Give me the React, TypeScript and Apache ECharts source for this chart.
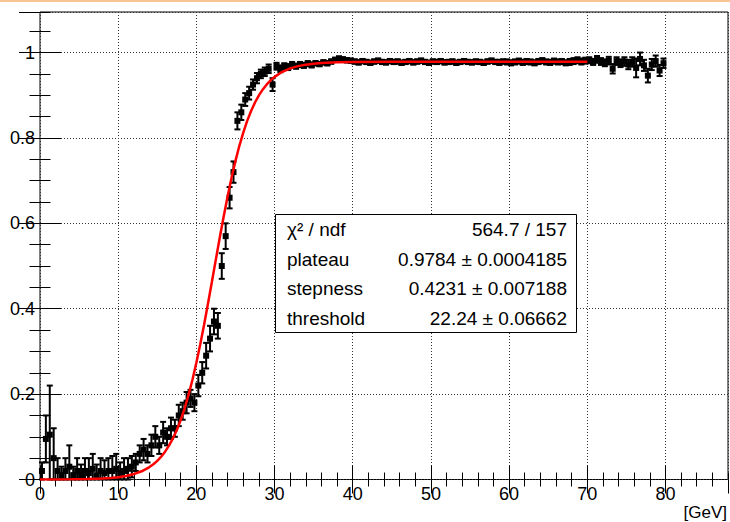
import React, { useEffect, useRef } from "react";
import * as echarts from "echarts";

// Histogram binning of the efficiency graph
const BIN_START = 0;
const BIN_WIDTH = 0.5;

// Efficiency values per bin (0–80 GeV, 0.5 GeV bins)
const effLow = [0.02, 0.095, 0.105, 0.05, 0.02, 0.01, 0.02, 0.03, 0.01, 0.02];
const effLowErr = [0.02, 0.055, 0.115, 0.07, 0.03, 0.02, 0.03, 0.05, 0.02, 0.03];

const effFlat = [0.01, 0.02, 0.015, 0.025, 0.01, 0.02, 0.015, 0.02, 0.02, 0.025, 0.015, 0.02, 0.025, 0.03];
const effFlatErr = [0.025, 0.03, 0.035, 0.035, 0.025, 0.03, 0.03, 0.03, 0.035, 0.035, 0.025, 0.03, 0.025, 0.025];

const effRise = [0.04, 0.06, 0.07, 0.06, 0.08, 0.10, 0.08, 0.11, 0.10, 0.12, 0.12, 0.15, 0.16, 0.18, 0.19, 0.18];
const effRiseErr = [0.02, 0.02, 0.025, 0.02, 0.025, 0.025, 0.02, 0.025, 0.02, 0.025, 0.02, 0.025, 0.02, 0.025, 0.02, 0.02];

const effSteep = [0.22, 0.25, 0.29, 0.33, 0.37, 0.36, 0.5, 0.57, 0.66, 0.72];
const effSteepErr = [0.025, 0.025, 0.03, 0.03, 0.03, 0.03, 0.03, 0.03, 0.025, 0.025];

const effKnee = [0.84, 0.86, 0.89, 0.905, 0.925, 0.94, 0.95, 0.955, 0.962, 0.925];
const effKneeErr = [0.02, 0.018, 0.015, 0.015, 0.012, 0.012, 0.01, 0.01, 0.01, 0.015];

const effApproach = [0.968, 0.962, 0.968, 0.966, 0.971, 0.968, 0.972, 0.97, 0.974, 0.971, 0.975, 0.973, 0.977, 0.975, 0.979, 0.983, 0.986, 0.984, 0.982, 0.981];
const effApproachErr = [0.008, 0.008, 0.007, 0.007, 0.007, 0.006, 0.006, 0.006, 0.006, 0.006, 0.005, 0.005, 0.005, 0.005, 0.005, 0.005, 0.005, 0.005, 0.005, 0.005];

const effPlateau = [
  0.979, 0.977, 0.98, 0.978, 0.976, 0.979, 0.981, 0.978, 0.977, 0.98,
  0.978, 0.979, 0.976, 0.978, 0.98, 0.977, 0.979, 0.981, 0.978, 0.976,
  0.979, 0.978, 0.98, 0.977, 0.978, 0.979, 0.976, 0.978, 0.98, 0.978,
  0.977, 0.979, 0.978, 0.976, 0.979, 0.981, 0.978, 0.977, 0.979, 0.978,
  0.976, 0.978, 0.98, 0.977, 0.979, 0.978, 0.976, 0.979, 0.981, 0.978,
  0.977, 0.98, 0.978, 0.979, 0.976, 0.978, 0.98, 0.982, 0.979, 0.981,
];
const effPlateauErr = [
  0.005, 0.005, 0.005, 0.005, 0.005, 0.005, 0.005, 0.005, 0.005, 0.005,
  0.005, 0.005, 0.005, 0.005, 0.005, 0.005, 0.005, 0.005, 0.005, 0.005,
  0.005, 0.005, 0.005, 0.005, 0.005, 0.005, 0.005, 0.005, 0.005, 0.005,
  0.005, 0.005, 0.005, 0.005, 0.005, 0.005, 0.005, 0.006, 0.005, 0.006,
  0.006, 0.006, 0.006, 0.006, 0.006, 0.006, 0.006, 0.006, 0.006, 0.006,
  0.006, 0.006, 0.006, 0.006, 0.006, 0.007, 0.007, 0.007, 0.007, 0.007,
];

const effTail = [0.982, 0.978, 0.984, 0.979, 0.976, 0.981, 0.962, 0.98, 0.975, 0.979, 0.972, 0.978, 0.964, 0.985, 0.97, 0.946, 0.972, 0.98, 0.958, 0.975];
const effTailErr = [0.007, 0.007, 0.008, 0.008, 0.008, 0.009, 0.011, 0.009, 0.009, 0.01, 0.011, 0.011, 0.022, 0.015, 0.013, 0.016, 0.013, 0.013, 0.013, 0.011];

const effValues = [...effLow, ...effFlat, ...effRise, ...effSteep, ...effKnee, ...effApproach, ...effPlateau, ...effTail];
const effErrors = [...effLowErr, ...effFlatErr, ...effRiseErr, ...effSteepErr, ...effKneeErr, ...effApproachErr, ...effPlateauErr, ...effTailErr];

// Fitted turn-on curve
const fitX = [0, 2, 4, 6, 8, 9, 10, 11, 12, 13, 14, 14.5, 15, 15.5, 16, 16.5, 17, 17.5, 18, 18.5, 19, 19.5, 20, 20.5, 21, 21.5, 22, 22.5, 23, 23.5, 24, 24.5, 25, 25.5, 26, 26.5, 27, 27.5, 28, 28.5, 29, 29.5, 30, 31, 32, 33, 34, 35, 36, 38, 40, 45, 50, 55, 60, 65, 70];
const fitY = [0.0001, 0.0002, 0.0004, 0.001, 0.0024, 0.0036, 0.0055, 0.0083, 0.0127, 0.0192, 0.0291, 0.0357, 0.0437, 0.0534, 0.0652, 0.0793, 0.0961, 0.1161, 0.1395, 0.1668, 0.198, 0.2336, 0.2733, 0.3168, 0.3637, 0.4133, 0.4644, 0.5161, 0.5672, 0.6166, 0.6634, 0.7068, 0.7463, 0.7816, 0.8127, 0.8399, 0.8632, 0.883, 0.8998, 0.9137, 0.9254, 0.9351, 0.943, 0.9549, 0.9629, 0.9682, 0.9717, 0.974, 0.9755, 0.9772, 0.9779, 0.9783, 0.9784, 0.9784, 0.9784, 0.9784, 0.9784];

// Axis settings
const X_MIN = 0;
const X_MAX = 88;
const X_MAJOR = 10;
const X_MINOR = 2;
const Y_MIN = 0;
const Y_MAX = 1.095;
const Y_MAJOR = 0.2;
const Y_MINOR = 0.05;
const xTitle = "[GeV]";

// Fit statistics box
const statsLabels = ["χ² / ndf", "plateau", "stepness", "threshold"];
const statsValues = ["564.7 / 157", "0.9784 ± 0.0004185", "0.4231 ± 0.007188", "22.24 ± 0.06662"];

const FONT = '"Liberation Sans", Arial, Helvetica, sans-serif';

export default function App() {
  const ref = useRef<HTMLDivElement>(null);

  useEffect(() => {
    if (!ref.current) return;
    const chart = echarts.init(ref.current, undefined, { renderer: "svg" });

    const points = effValues.map((v, i) => {
      const x = BIN_START + BIN_WIDTH * (i + 0.5);
      const e = effErrors[i];
      return [x, v, Math.max(0, v - e), v + e];
    });

    const tickBase = (position: string, interval: number, len: number, major: boolean) => ({
      type: "value",
      position,
      min: X_MIN,
      max: X_MAX,
      interval,
      axisLine: { show: false },
      axisTick: { show: true, inside: true, length: len, lineStyle: { color: "#000", width: 1 } },
      axisLabel: major && position === "bottom"
        ? { show: true, fontSize: 18, color: "#000", fontFamily: FONT, margin: 5, showMaxLabel: false }
        : { show: false },
      splitLine: major && position === "bottom"
        ? { show: true, lineStyle: { color: "#333", width: 1, type: [1, 2] } }
        : { show: false },
    });

    const yTickBase = (position: string, interval: number, len: number, major: boolean) => ({
      type: "value",
      position,
      min: Y_MIN,
      max: Y_MAX,
      interval,
      axisLine: { show: false },
      axisTick: { show: true, inside: true, length: len, lineStyle: { color: "#000", width: 1 } },
      axisLabel: major && position === "left"
        ? { show: true, fontSize: 18, color: "#000", fontFamily: FONT, margin: 5, showMaxLabel: false }
        : { show: false },
      splitLine: major && position === "left"
        ? { show: true, lineStyle: { color: "#333", width: 1, type: [1, 2] } }
        : { show: false },
    });

    const rowY = [229, 259, 288, 318];

    chart.setOption({
      animation: false,
      backgroundColor: "#fff",
      grid: {
        left: 40,
        right: 2,
        top: 12,
        bottom: 42.5,
        show: true,
        borderColor: "#000",
        borderWidth: 1,
        backgroundColor: "transparent",
      },
      xAxis: [
        tickBase("bottom", X_MAJOR, 14, true),
        tickBase("bottom", X_MINOR, 7, false),
        tickBase("top", X_MAJOR, 14, false),
        tickBase("top", X_MINOR, 7, false),
      ],
      yAxis: [
        yTickBase("left", Y_MAJOR, 21, true),
        yTickBase("left", Y_MINOR, 10.5, false),
        yTickBase("right", Y_MAJOR, 21, false),
        yTickBase("right", Y_MINOR, 10.5, false),
      ],
      series: [
        {
          type: "custom",
          xAxisIndex: 0,
          yAxisIndex: 0,
          data: points,
          encode: { x: 0, y: 1 },
          z: 3,
          renderItem: (_params: any, api: any) => {
            const x = api.value(0);
            const y = api.value(1);
            const lo = api.value(2);
            const hi = api.value(3);
            const c = api.coord([x, y]);
            const cl = api.coord([x, lo]);
            const ch = api.coord([x, hi]);
            const xl = api.coord([x - BIN_WIDTH / 2, y]);
            const xr = api.coord([x + BIN_WIDTH / 2, y]);
            const style = { stroke: "#000", lineWidth: 2 };
            return {
              type: "group",
              children: [
                { type: "line", shape: { x1: c[0], y1: cl[1], x2: c[0], y2: ch[1] }, style },
                { type: "line", shape: { x1: c[0] - 3, y1: cl[1], x2: c[0] + 3, y2: cl[1] }, style },
                { type: "line", shape: { x1: c[0] - 3, y1: ch[1], x2: c[0] + 3, y2: ch[1] }, style },
                { type: "line", shape: { x1: xl[0], y1: c[1], x2: xr[0], y2: c[1] }, style },
                { type: "rect", shape: { x: c[0] - 3, y: c[1] - 3, width: 6, height: 6 }, style: { fill: "#000" } },
              ],
            };
          },
        },
        {
          type: "line",
          xAxisIndex: 0,
          yAxisIndex: 0,
          data: fitX.map((x, i) => [x, fitY[i]]),
          showSymbol: false,
          symbol: "none",
          z: 5,
          lineStyle: { color: "#ff0000", width: 2.5 },
        },
      ],
      graphic: [
        { type: "rect", shape: { x: 0, y: 0, width: 730, height: 2 }, style: { fill: "#f8c596" }, z: 10 },
        {
          type: "text",
          style: { text: xTitle, x: 727, y: 512, align: "right", verticalAlign: "middle", fontSize: 17, fontFamily: FONT, fill: "#000" },
        },
        {
          type: "rect",
          shape: { x: 275.5, y: 214.5, width: 301, height: 118 },
          style: { fill: "#fff", stroke: "#000", lineWidth: 1 },
          z: 20,
        },
        ...statsLabels.map((t, i) => ({
          type: "text",
          z: 21,
          style: { text: t, x: 287, y: rowY[i], align: "left", verticalAlign: "middle", fontSize: 19, fontFamily: FONT, fill: "#000" },
        })),
        ...statsValues.map((t, i) => ({
          type: "text",
          z: 21,
          style: { text: t, x: 567, y: rowY[i], align: "right", verticalAlign: "middle", fontSize: 19, fontFamily: FONT, fill: "#000" },
        })),
      ],
    });

    return () => chart.dispose();
  }, []);

  return <div ref={ref} style={{ position: "absolute", left: 0, top: 0, width: 730, height: 522 }} />;
}
